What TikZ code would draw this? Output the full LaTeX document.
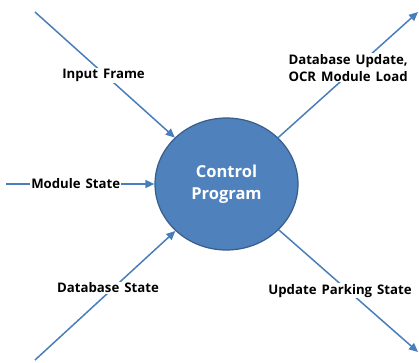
\documentclass[tikz,border=0pt]{standalone}
\usepackage{fontspec}
\setmainfont{Open Sans}
\usepackage{xcolor}
\usetikzlibrary{arrows.meta,shapes.geometric}
\definecolor{flow}{HTML}{4A7EBB}
\definecolor{ctrlfill}{HTML}{4F81BD}
\definecolor{ctrlrim}{HTML}{385D8A}
% bold labels with a wider gap between words
\newcommand{\flowfont}{\bfseries\fontsize{13.2}{17}\selectfont\spaceskip=5pt plus 1pt\relax}

\begin{document}
\begin{tikzpicture}[x=1pt, y=-1pt,
    flowline/.style={draw=flow, line width=1.5pt, -{Triangle[length=9pt,width=8pt]}},
    lbl/.style={fill=white, inner sep=1pt, align=center, font=\flowfont},
    procnode/.style={ellipse, draw=ctrlrim, line width=1.2pt, fill=ctrlfill, text=white,
      minimum width=143pt, minimum height=132pt, align=center,
      font=\bfseries\fontsize{16.5}{22}\selectfont}]
    \useasboundingbox (0,0) rectangle (419,362);
    % the control program in the middle
    \node[procnode] (ctrl) at (226.5,184) {Control\\Program};
    % loose ends of the flows
    \coordinate (inframe) at (35,12);
    \coordinate (modstate) at (6,184);
    \coordinate (dbstate) at (35,360);
    \coordinate (dbupdate) at (418,12);
    \coordinate (parking) at (418,352);
    % inputs
    \draw[flowline] (inframe) -- (ctrl) node[lbl, pos=0.49, yshift=-2pt] {Input Frame};
    \draw[flowline] (modstate) -- (ctrl) node[lbl, pos=0.47] {Module State};
    \draw[flowline] (dbstate) -- (ctrl) node[lbl, pos=0.52, yshift=5pt] {Database State};
    % outputs
    \draw[flowline] (ctrl) -- (dbupdate) node[lbl, pos=0.5, yshift=7pt] {Database Update,\\OCR Module Load};
    \draw[flowline] (ctrl) -- (parking) node[lbl, pos=0.44, yshift=-7pt] {Update Parking State};
\end{tikzpicture}
\end{document}
